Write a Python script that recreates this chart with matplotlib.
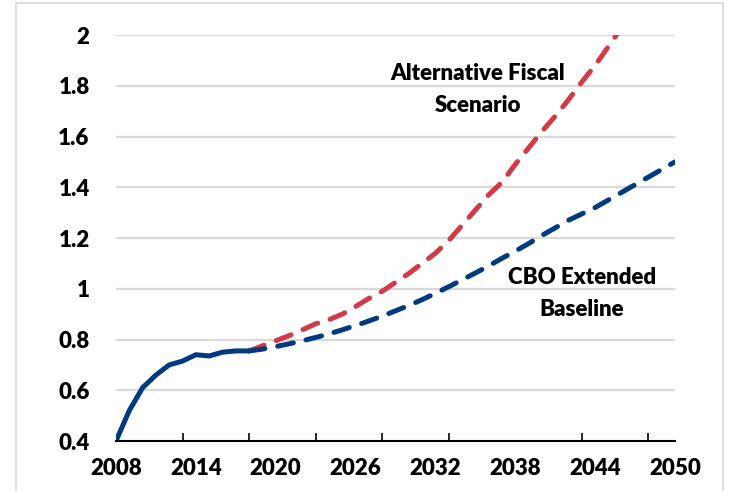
import matplotlib
matplotlib.use('Agg')
import matplotlib.pyplot as plt
from matplotlib.patches import Rectangle

plt.rcParams['font.family'] = ['Lato', 'DejaVu Sans']
plt.rcParams['font.weight'] = 'heavy'

# 历史值(实线)
hist_years = list(range(2008, 2019))
hist_vals = [0.40, 0.52, 0.61, 0.66, 0.70, 0.715, 0.74, 0.735, 0.75, 0.755, 0.755]

# 预测(虚线)
proj_years = list(range(2018, 2051))
cbo_vals = [0.755, 0.762, 0.772, 0.783, 0.795, 0.808, 0.822, 0.838, 0.855, 0.873,
            0.892, 0.913, 0.934, 0.957, 0.982, 1.008, 1.035, 1.062, 1.09, 1.12,
            1.148, 1.178, 1.21, 1.24, 1.27, 1.295, 1.32, 1.35, 1.38, 1.41,
            1.44, 1.47, 1.50]
alt_years = list(range(2018, 2047))
alt_vals = [0.755, 0.775, 0.795, 0.815, 0.838, 0.862, 0.878, 0.90, 0.93, 0.962,
            0.99, 1.025, 1.06, 1.10, 1.14, 1.19, 1.25, 1.31, 1.37, 1.42,
            1.49, 1.555, 1.62, 1.68, 1.745, 1.815, 1.88, 1.955, 2.03]

x_labels = list(range(2008, 2051, 6))
x_ticks = list(range(2008, 2050, 5))
y_ticks = [0.4, 0.6, 0.8, 1.0, 1.2, 1.4, 1.6, 1.8, 2.0]
y_labels = ['0.4', '0.6', '0.8', '1', '1.2', '1.4', '1.6', '1.8', '2']

NAVY = '#003A80'
RED = '#D13B48'
GRID = '#D9D9D9'

fig = plt.figure(figsize=(7.41, 4.91), dpi=100)
fig.patches.append(Rectangle((16 / 741, -0.1), 707 / 741, 1.1 - 3 / 491,
                             transform=fig.transFigure, fill=False,
                             edgecolor=GRID, linewidth=1.2))
ax = fig.add_axes([116 / 741, 1 - 441 / 491, 559 / 741, 406 / 491])

for v in y_ticks[1:]:
    ax.axhline(v, color=GRID, linewidth=1.6, zorder=1)

ax.plot(alt_years, alt_vals, color=RED, linewidth=3.6, dashes=(3.2, 2.6),
        dash_capstyle='round', zorder=3)
ax.plot(proj_years, cbo_vals, color=NAVY, linewidth=3.6, dashes=(3.2, 2.6),
        dash_capstyle='round', zorder=4)
ax.plot(hist_years, hist_vals, color=NAVY, linewidth=3.6,
        solid_capstyle='butt', solid_joinstyle='round', zorder=5)

ax.set_xlim(2008, 2050)
ax.set_ylim(0.4, 2.0)

for s in ['top', 'right', 'left']:
    ax.spines[s].set_visible(False)
ax.spines['bottom'].set_linewidth(1.5)
ax.spines['bottom'].set_zorder(6)

ax.set_xticks(x_labels)
ax.set_xticklabels([str(y) for y in x_labels])
ax.set_xticks(x_ticks, minor=True)
ax.tick_params(axis='x', which='major', length=0, pad=12, labelsize=16)
ax.tick_params(axis='x', which='minor', direction='in', length=6, width=1.2)
ax.set_yticks(y_ticks)
ax.set_yticklabels(y_labels)
ax.tick_params(axis='y', length=0, pad=19, labelsize=16)

ax.text(2035.2, 1.787, 'Alternative Fiscal\nScenario', ha='center', va='center',
        fontsize=16, fontweight='heavy', linespacing=1.65)
ax.text(2043.0, 0.98, 'CBO Extended\nBaseline', ha='center', va='center',
        fontsize=16, fontweight='heavy', linespacing=1.65)

fig.savefig('out.png', dpi=100)
